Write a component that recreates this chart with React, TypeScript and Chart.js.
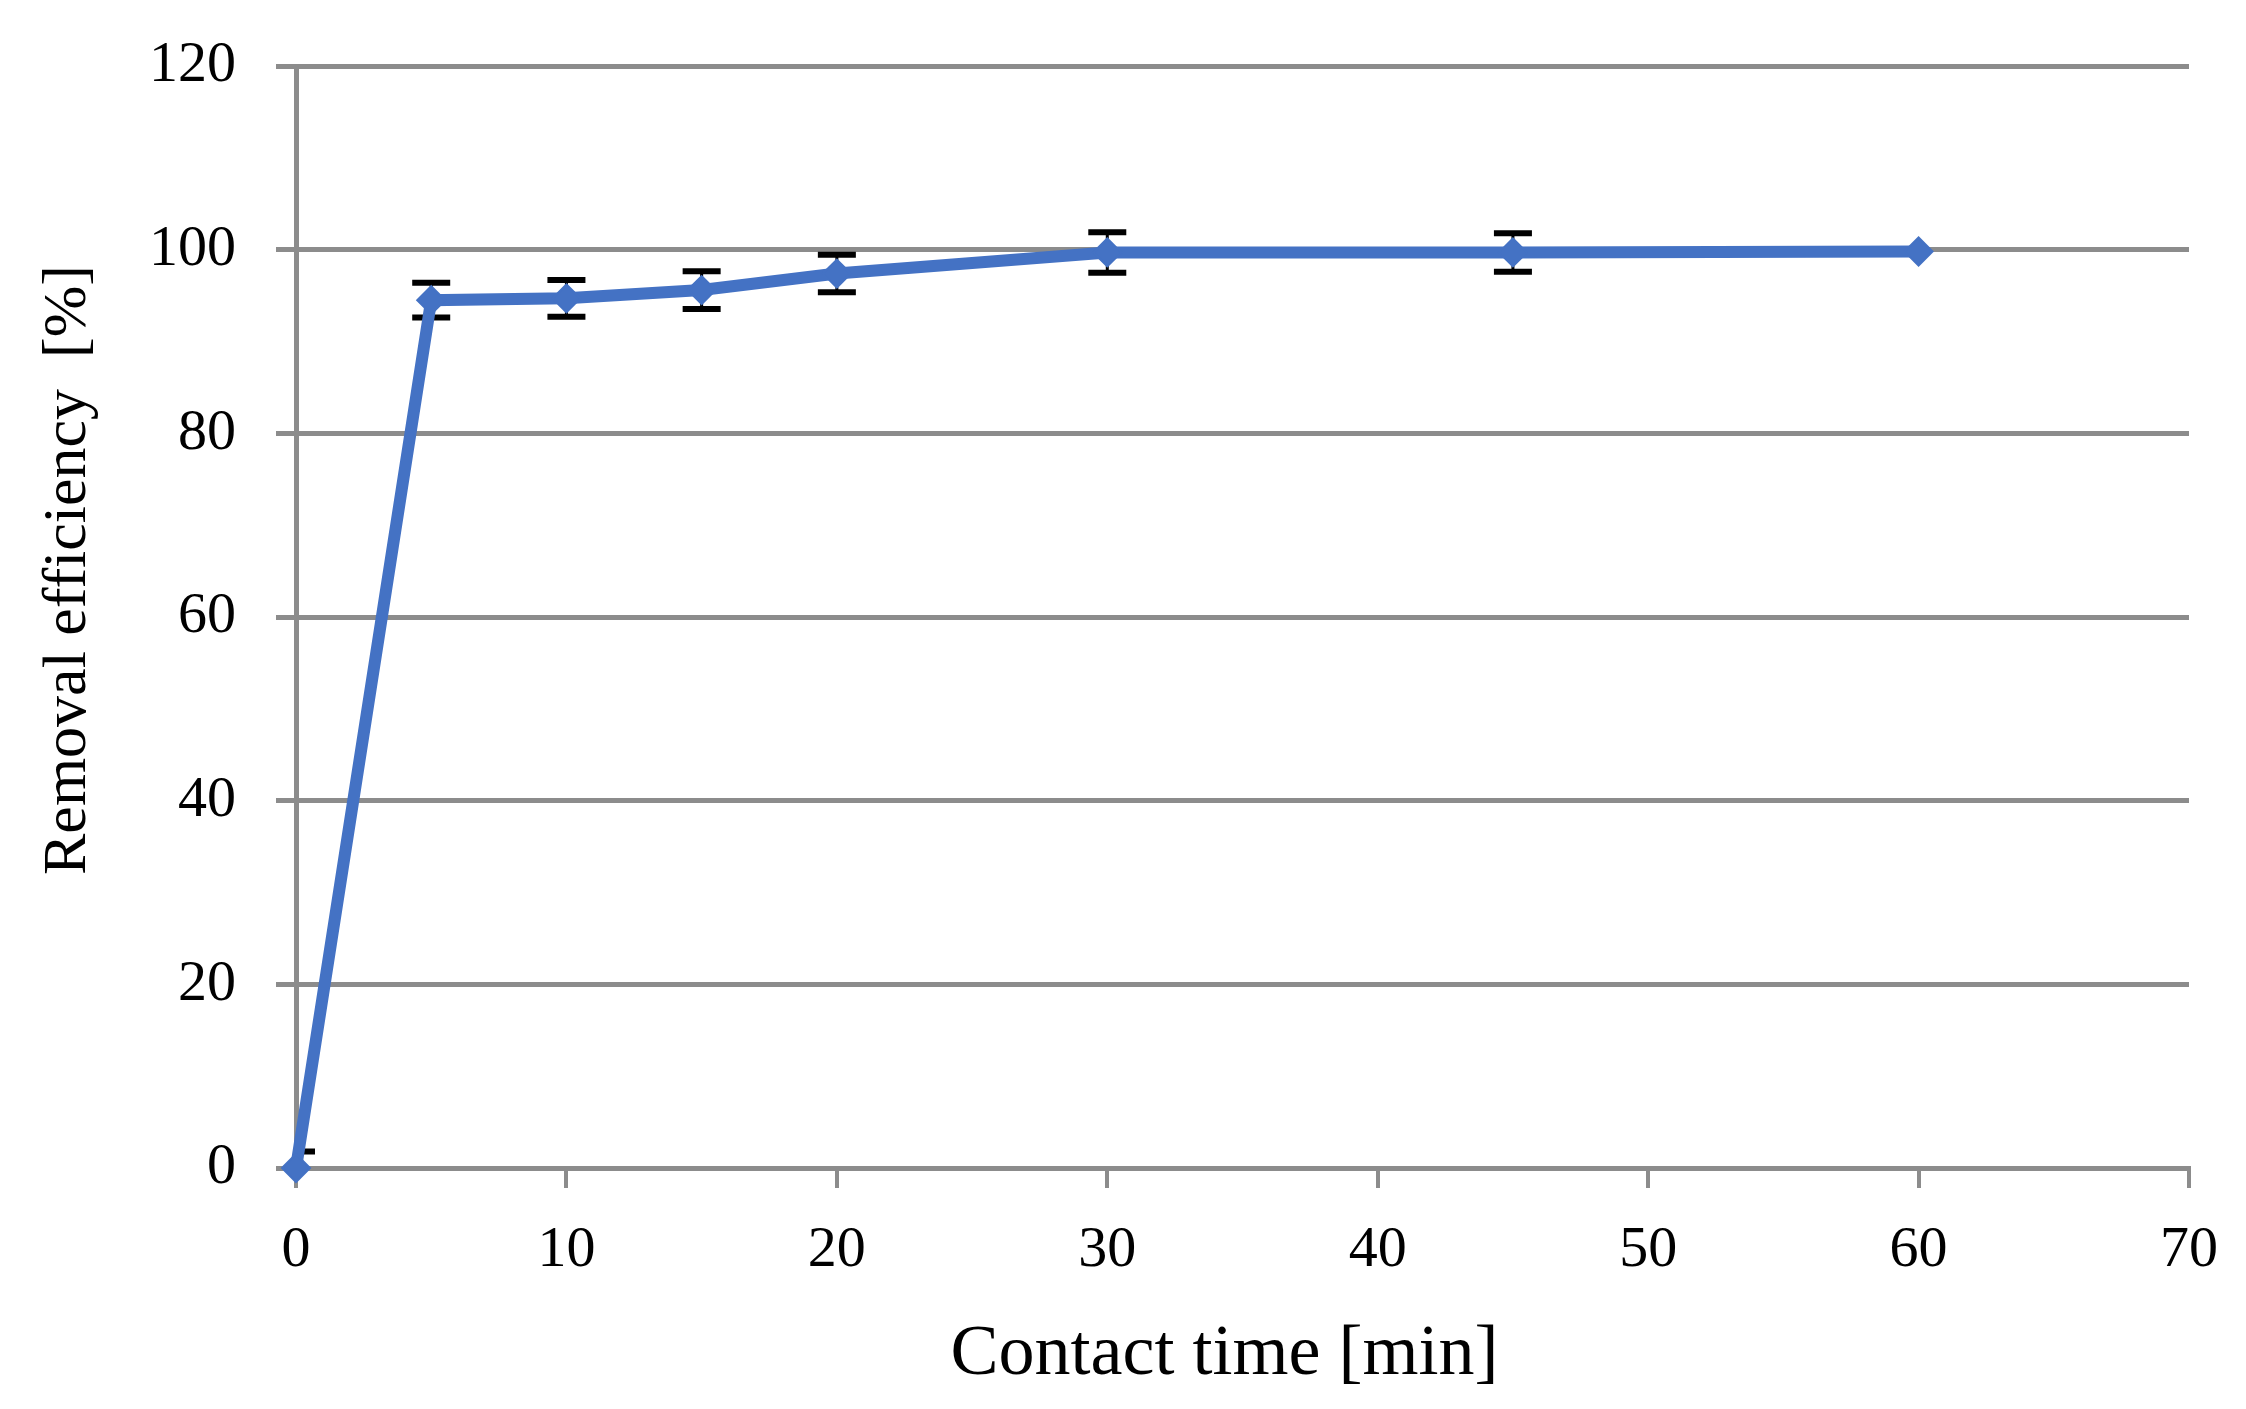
import React, { useEffect, useRef } from "react";
import { Chart, registerables } from "chart.js";

Chart.register(...registerables);

const contactTime = [0, 5, 10, 15, 20, 30, 45, 60];
const removalEfficiency = [0, 94.5, 94.7, 95.6, 97.4, 99.7, 99.7, 99.8];
const errorMargin = [1.8, 1.9, 2.0, 2.05, 2.05, 2.2, 2.1, 0];
const xTicks = [0, 10, 20, 30, 40, 50, 60, 70];
const yTicks = [0, 20, 40, 60, 80, 100, 120];

const xTitle = "Contact time [min]";
const yTitle = "Removal efficiency  [%]";

const FONT = "'Liberation Serif', 'Times New Roman', serif";
const GRID = "#8c8c8c";
const BLUE = "#4472C4";

const errorBarPlugin = {
  id: "errorBars",
  beforeDatasetsDraw(chart: any) {
    const { ctx, chartArea, scales } = chart;
    const xs = scales.x;
    const ys = scales.y;
    ctx.save();
    ctx.beginPath();
    ctx.rect(chartArea.left, chartArea.top, chartArea.right - chartArea.left, chartArea.bottom - chartArea.top);
    ctx.clip();
    ctx.strokeStyle = "#000000";
    contactTime.forEach((t, i) => {
      const e = errorMargin[i];
      if (!e) return;
      const px = xs.getPixelForValue(t);
      const yHi = ys.getPixelForValue(removalEfficiency[i] + e);
      const yLo = ys.getPixelForValue(removalEfficiency[i] - e);
      const cap = 19;
      ctx.lineWidth = 3;
      ctx.beginPath();
      ctx.moveTo(px, yHi);
      ctx.lineTo(px, yLo);
      ctx.stroke();
      ctx.lineWidth = 6;
      ctx.beginPath();
      ctx.moveTo(px - cap, yHi);
      ctx.lineTo(px + cap, yHi);
      ctx.moveTo(px - cap, yLo);
      ctx.lineTo(px + cap, yLo);
      ctx.stroke();
    });
    ctx.restore();
  },
};

const axisTitlePlugin = {
  id: "axisTitles",
  afterDraw(chart: any) {
    const { ctx, chartArea } = chart;
    ctx.save();
    ctx.fillStyle = "#000";
    ctx.textAlign = "center";
    ctx.textBaseline = "middle";
    ctx.font = `72px ${FONT}`;
    const xc = (chartArea.left + chartArea.right) / 2 - 18;
    ctx.fillText(xTitle, xc, chartArea.bottom + 187);
    ctx.font = `62px ${FONT}`;
    const yc = (chartArea.top + chartArea.bottom) / 2 - 47;
    ctx.translate(69, yc);
    ctx.rotate(-Math.PI / 2);
    ctx.fillText(yTitle, 0, 0);
    ctx.restore();
  },
};

export default function App() {
  const canvasRef = useRef<HTMLCanvasElement | null>(null);

  useEffect(() => {
    if (!canvasRef.current) return;
    const chart = new Chart(canvasRef.current, {
      type: "line",
      data: {
        datasets: [
          {
            data: contactTime.map((t, i) => ({ x: t, y: removalEfficiency[i] })),
            borderColor: BLUE,
            backgroundColor: BLUE,
            borderWidth: 12,
            pointStyle: "rectRot",
            pointRadius: 14,
            pointBorderWidth: 2,
            pointBackgroundColor: BLUE,
            pointBorderColor: BLUE,
            tension: 0,
            clip: false as any,
          },
        ],
      },
      options: {
        animation: false,
        responsive: true,
        maintainAspectRatio: false,
        layout: { padding: { top: 66, right: 57, left: 0, bottom: 0 } },
        plugins: { legend: { display: false }, tooltip: { enabled: false } },
        scales: {
          x: {
            type: "linear",
            min: 0,
            max: 70,
            afterBuildTicks: (scale: any) => {
              scale.ticks = xTicks.map((v) => ({ value: v }));
            },
            afterFit: (scale: any) => {
              scale.height = 241;
              scale.paddingLeft = 0;
              scale.paddingRight = 0;
            },
            grid: {
              display: true,
              drawOnChartArea: false,
              drawTicks: true,
              tickLength: 20,
              color: GRID,
              lineWidth: 4,
            },
            border: { display: true, color: GRID, width: 5 },
            ticks: {
              color: "#000",
              padding: 28,
              font: { family: FONT, size: 58 },
            },
            title: { display: false },
          },
          y: {
            type: "linear",
            min: 0,
            max: 120,
            afterBuildTicks: (scale: any) => {
              scale.ticks = yTicks.map((v) => ({ value: v }));
            },
            afterFit: (scale: any) => {
              scale.width = 296;
              scale.paddingTop = 0;
              scale.paddingBottom = 0;
            },
            grid: {
              display: true,
              drawOnChartArea: true,
              drawTicks: true,
              tickLength: 20,
              color: GRID,
              lineWidth: 5,
            },
            border: { display: true, color: GRID, width: 5 },
            ticks: {
              color: "#000",
              padding: 40,
              font: { family: FONT, size: 58 },
            },
            title: { display: false },
          },
        },
      },
      plugins: [errorBarPlugin, axisTitlePlugin],
    });
    return () => chart.destroy();
  }, []);

  return (
    <div
      style={{
        position: "fixed",
        left: 0,
        top: 0,
        width: "2246px",
        height: "1409px",
        background: "#fff",
      }}
    >
      <canvas ref={canvasRef} />
    </div>
  );
}
